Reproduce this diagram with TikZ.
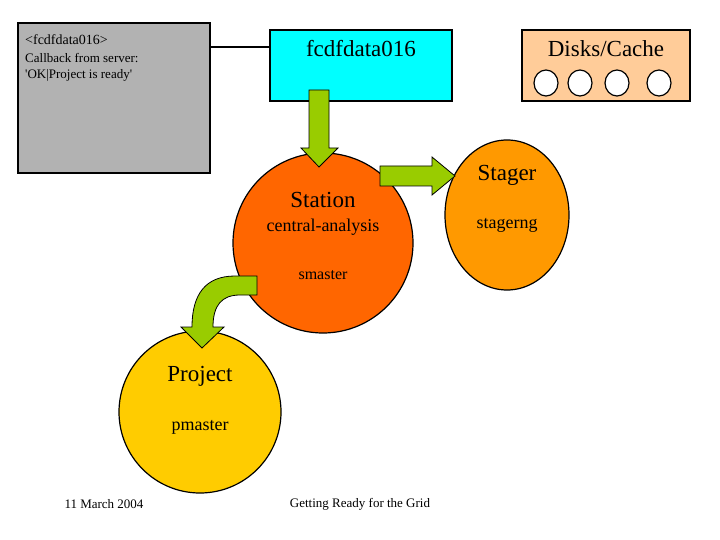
\documentclass[tikz,border=0pt]{standalone}
\usepackage{fontspec}
\setmainfont{Liberation Serif}
\newfontfamily\serf{Liberation Serif}
\begin{document}
\begin{tikzpicture}[x=1pt,y=-1pt,
  bx/.style={draw=black,line width=1.5pt},
  arr/.style={fill=arrgreen,draw=black,line width=0.8pt,line join=miter},
  t/.style={inner sep=0pt,font=\serf\fontsize{#1}{#1}\selectfont}]
\definecolor{arrgreen}{RGB}{153,204,0}
\definecolor{stn}{RGB}{255,102,0}
\definecolor{stg}{RGB}{255,153,0}
\definecolor{prj}{RGB}{255,204,0}
\definecolor{dsk}{RGB}{255,204,153}
\definecolor{cyn}{RGB}{0,255,255}
\useasboundingbox (0,0) rectangle (720,540);
\fill[white] (0,0) rectangle (720,540);
% boxes
\draw[bx,fill={rgb,255:red,178;green,178;blue,178}] (18,23) rectangle (210,173);
\node[t=14,anchor=west] (g1) at (25,40) {<fcdfdata016>};
\node[t=13,anchor=west] (g2) at (25,58) {Callback from server:};
\node[t=13,anchor=west] (g3) at (25,75) {'OK|Project is ready'};
\draw[bx,fill=cyn] (270,30) rectangle (452,101);
\node[t=23] (fc) at (361,49) {fcdfdata016};
\draw[line width=1.2pt] (210,47) -- (270,47);
\draw[bx,fill=dsk] (522,30) rectangle (690,101);
\node[t=23] (dc) at (606,49) {Disks/Cache};
\foreach \x in {546,580,617,659}{\draw[line width=1.2pt,fill=white] (\x,83) ellipse (12 and 13);}
% circles
\draw[line width=1.2pt,fill=stn] (323,243) circle (90);
\node[t=23] (st) at (323,200) {Station};
\node[t=18] (ca) at (323,227) {central-analysis};
\node[t=16] (sm) at (323,275) {smaster};
\draw[line width=1.2pt,fill=stg] (507,215) ellipse (62 and 75);
\node[t=23] (sg) at (507,175) {Stager};
\node[t=18] (sn) at (507,225) {stagerng};
\draw[line width=1.2pt,fill=prj] (200,412) circle (81);
\node[t=23] (pj) at (200,376) {Project};
\node[t=18] (pm) at (200,427) {pmaster};
% arrows
\draw[arr] (309,90) -- (329,90) -- (329,148) -- (338,148) -- (319,167) -- (301,148) -- (309,148) -- cycle;
\draw[arr] (380,166) -- (432,166) -- (432,157) -- (455,176) -- (432,195) -- (432,186) -- (380,186) -- cycle;
\draw[arr] (257,276) -- (235,276) .. controls (205,276) and (192,295) .. (192,327) -- (181,327) -- (202,348) -- (224,327) -- (213,327) .. controls (213,305) and (222,295) .. (240,295) -- (257,295) -- cycle;
% footer
\node[t=13] (f1) at (104,504) {11 March 2004};
\node[t=13] (f2) at (360,504) {Getting Ready for the Grid};
\end{tikzpicture}
\end{document}
